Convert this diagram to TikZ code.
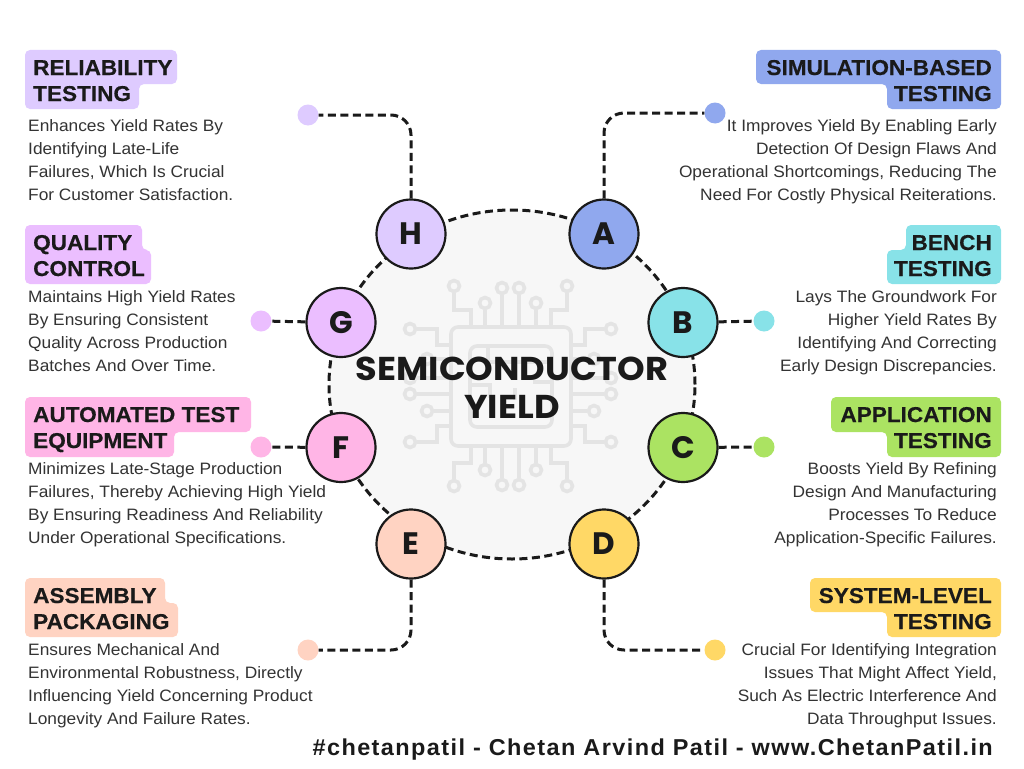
\documentclass[tikz,border=0pt]{standalone}
\usepackage{fontspec}
\usetikzlibrary{positioning,shapes.geometric}
\setmainfont{Liberation Sans}
\newfontfamily\bodyfont[FakeStretch=1.05]{Liberation Sans}
\newfontfamily\headfont[FakeStretch=1.05,FakeBold=0.4,BoldFont={Liberation Sans Bold},BoldFeatures={FakeStretch=1.05,FakeBold=0.4}]{Liberation Sans Bold}
\newfontfamily\hubfont{Poppins}
\newfontfamily\titlefont[FakeStretch=1.065]{Poppins}
\newfontfamily\footfont[FakeStretch=1.02,LetterSpace=6.2]{Liberation Sans}
\definecolor{ink}{HTML}{1A1A1A}
\definecolor{bodyink}{HTML}{333333}
\definecolor{chipc}{HTML}{E4E4E4}
\definecolor{ringfill}{HTML}{F7F7F7}
\definecolor{cA}{HTML}{90A8EE}
\definecolor{cB}{HTML}{88E2E8}
\definecolor{cC}{HTML}{ABE362}
\definecolor{cD}{HTML}{FFD866}
\definecolor{cE}{HTML}{FFD3C2}
\definecolor{cF}{HTML}{FFB5E6}
\definecolor{cG}{HTML}{EBBEFF}
\definecolor{cH}{HTML}{DECBFF}
\tikzset{
  x=1pt,y=-1pt,
  ring/.style={ellipse,draw=ink,line width=3pt,dash pattern=on 8pt off 4.5pt,fill=ringfill,inner sep=0pt,minimum width=366pt,minimum height=349pt},
  hub/.style={circle,draw=ink,line width=2.2pt,inner sep=0pt,minimum size=69pt,font=\hubfont\fontsize{31}{31}\selectfont\bfseries,text=ink},
  tipdot/.style={circle,inner sep=0pt,minimum size=21pt},
  link/.style={draw=ink,line width=3pt,dash pattern=on 8pt off 4.5pt,rounded corners=20pt},
  chip/.style={draw=chipc,line width=3.6pt},
  pad/.style={circle,draw=chipc,line width=3.6pt,fill=ringfill,inner sep=0pt,minimum size=11pt},
  heading/.style={inner sep=0pt,font=\headfont\fontsize{21.5}{26}\selectfont,text=ink},
  para/.style={inner sep=0pt,font=\bodyfont\fontsize{16.5}{23}\selectfont,text=bodyink},
  title/.style={inner sep=0pt,align=center,font=\titlefont\fontsize{33}{38}\selectfont\bfseries,text=ink},
}
\newcommand{\tagshape}[7]{\fill[#7,rounded corners=5pt] (#1,#4) -- (#2,#4) -- (#2,#5) -- (#3,#5) -- (#3,#6) -- (#1,#6) -- cycle;}
\newcommand{\bodyL}[4]{\node[para,anchor=north west,align=left] (#1) at (#2,#3-16) {\rule{0pt}{16pt}#4};}
\newcommand{\bodyR}[4]{\node[para,anchor=north east,align=right] (#1) at (#2,#3-16) {\rule{0pt}{16pt}#4};}
\begin{document}
\begin{tikzpicture}
\useasboundingbox (0,0) rectangle (1024,768);
\fill[white] (0,0) rectangle (1024,768);
% ring
\node[ring] (core) at (512,384.5) {};
% chip icon
\draw[chip,rounded corners=7pt] (451,327) rectangle (571,446);
\draw[chip,rounded corners=7pt] (470,346) rectangle (552,427);
\draw[chip] (488,348) -- (488,362) -- (550,362);
\draw[chip] (472,385) -- (490,385) -- (490,398);
\draw[chip] (515,388) -- (515,400);
\draw[chip] (533,382) -- (550,382);
% chip pins top and bottom
\foreach \ya/\yb/\yc/\yd/\ye in {327/310/286/303/288,446/463/486/470/485}{
  \node[pad] (pa) at (454,\yc) {};
  \draw[chip] (pa) -- (454,\yb) -- (471,\yb) -- (471,\ya);
  \node[pad] (pb) at (567,\yc) {};
  \draw[chip] (pb) -- (567,\yb) -- (551,\yb) -- (551,\ya);
  \node[pad] (pc) at (485,\yd) {};
  \draw[chip] (pc) -- (485,\ya);
  \node[pad] (pd) at (536,\yd) {};
  \draw[chip] (pd) -- (536,\ya);
  \node[pad] (pe) at (502,\ye) {};
  \draw[chip] (pe) -- (502,\ya);
  \node[pad] (pf) at (519,\ye) {};
  \draw[chip] (pf) -- (519,\ya);
}
% chip pins left and right
\foreach \xa/\xb/\xc/\xd in {451/437/410/427,571/585/611/594}{
  \node[pad] (qa) at (\xc,329) {};
  \draw[chip] (qa) -- (\xb,329) -- (\xb,345) -- (\xa,345);
  \node[pad] (qb) at (\xc,442) {};
  \draw[chip] (qb) -- (\xb,442) -- (\xb,426) -- (\xa,426);
  \node[pad] (qc) at (\xd,359) {};
  \draw[chip] (qc) -- (\xa,359);
  \node[pad] (qd) at (\xd,411) {};
  \draw[chip] (qd) -- (\xa,411);
  \node[pad] (qe) at (\xc,378) {};
  \draw[chip] (qe) -- (\xa,378);
  \node[pad] (qf) at (\xc,394) {};
  \draw[chip] (qf) -- (\xa,394);
}
% title
\node[title] (maintitle) at (512,388) {SEMICONDUCTOR\\YIELD};
% tip dots
\node[tipdot,fill=cA] (ta) at (715,113) {};
\node[tipdot,fill=cB] (tb) at (764,321) {};
\node[tipdot,fill=cC] (tc) at (764,447) {};
\node[tipdot,fill=cD] (td) at (715,650) {};
\node[tipdot,fill=cE] (te) at (308,650) {};
\node[tipdot,fill=cF] (tf) at (261,447) {};
\node[tipdot,fill=cG] (tg) at (261,321) {};
\node[tipdot,fill=cH] (th) at (308,115) {};
% hubs
\node[hub,fill=cA] (a) at (604,234) {A};
\node[hub,fill=cB] (b) at (683,322.5) {B};
\node[hub,fill=cC] (c) at (683,447.5) {C};
\node[hub,fill=cD] (d) at (604,544) {D};
\node[hub,fill=cE] (e) at (411,544) {E};
\node[hub,fill=cF] (f) at (341,447.5) {F};
\node[hub,fill=cG] (g) at (341,322.5) {G};
\node[hub,fill=cH] (h) at (411,234) {H};
% links
\draw[link] (a) |- (ta);
\draw[link] (d) |- (td);
\draw[link] (h) |- (th);
\draw[link] (e) |- (te);
\draw[link] (b) -- (tb);
\draw[link] (c) -- (tc);
\draw[link] (g) -- (tg);
\draw[link] (f) -- (tf);
% left tags
\tagshape{25}{177}{139}{50}{84}{109}{cH}
\node[heading,anchor=base west] (h1) at (33,75) {RELIABILITY};
\node[heading,anchor=base west] (h2) at (33,101) {TESTING};
\bodyL{hb}{28}{131}{Enhances Yield Rates By\\Identifying Late-Life\\Failures, Which Is Crucial\\For Customer Satisfaction.}
\tagshape{25}{142}{151}{225}{250}{284}{cG}
\node[heading,anchor=base west] (g1) at (33,250) {QUALITY};
\node[heading,anchor=base west] (g2) at (33,276) {CONTROL};
\bodyL{gb}{28}{302}{Maintains High Yield Rates\\By Ensuring Consistent\\Quality Across Production\\Batches And Over Time.}
\tagshape{25}{251}{174}{397}{432}{457}{cF}
\node[heading,anchor=base west] (f1) at (33,422) {AUTOMATED TEST};
\node[heading,anchor=base west] (f2) at (33,448) {EQUIPMENT};
\bodyL{fb}{28}{474}{Minimizes Late-Stage Production\\Failures, Thereby Achieving High Yield\\By Ensuring Readiness And Reliability\\Under Operational Specifications.}
\tagshape{25}{165}{178}{578}{603}{637}{cE}
\node[heading,anchor=base west] (e1) at (33,603) {ASSEMBLY};
\node[heading,anchor=base west] (e2) at (33,629) {PACKAGING};
\bodyL{eb}{28}{655}{Ensures Mechanical And\\Environmental Robustness, Directly\\Influencing Yield Concerning Product\\Longevity And Failure Rates.}
% right tags
\tagshape{1001}{756}{887}{50}{84}{109}{cA}
\node[heading,anchor=base east] (a1) at (992,75) {SIMULATION-BASED};
\node[heading,anchor=base east] (a2) at (992,101) {TESTING};
\bodyR{ab}{997}{131}{It Improves Yield By Enabling Early\\Detection Of Design Flaws And\\Operational Shortcomings, Reducing The\\Need For Costly Physical Reiterations.}
\tagshape{1001}{906}{887}{225}{250}{284}{cB}
\node[heading,anchor=base east] (b1) at (992,250) {BENCH};
\node[heading,anchor=base east] (b2) at (992,276) {TESTING};
\bodyR{bb}{997}{302}{Lays The Groundwork For\\Higher Yield Rates By\\Identifying And Correcting\\Early Design Discrepancies.}
\tagshape{1001}{831}{887}{397}{432}{457}{cC}
\node[heading,anchor=base east] (c1) at (992,422) {APPLICATION};
\node[heading,anchor=base east] (c2) at (992,448) {TESTING};
\bodyR{cb}{997}{474}{Boosts Yield By Refining\\Design And Manufacturing\\Processes To Reduce\\Application-Specific Failures.}
\tagshape{1001}{810}{887}{578}{612}{637}{cD}
\node[heading,anchor=base east] (d1) at (992,603) {SYSTEM-LEVEL};
\node[heading,anchor=base east] (d2) at (992,629) {TESTING};
\bodyR{db}{997}{655}{Crucial For Identifying Integration\\Issues That Might Affect Yield,\\Such As Electric Interference And\\Data Throughput Issues.}
% footer
\node[inner sep=0pt,anchor=base east,font=\footfont\fontsize{23}{26}\selectfont\bfseries,text=ink] (credit) at (993,755) {\#chetanpatil - Chetan Arvind Patil - www.ChetanPatil.in};
\end{tikzpicture}
\end{document}
